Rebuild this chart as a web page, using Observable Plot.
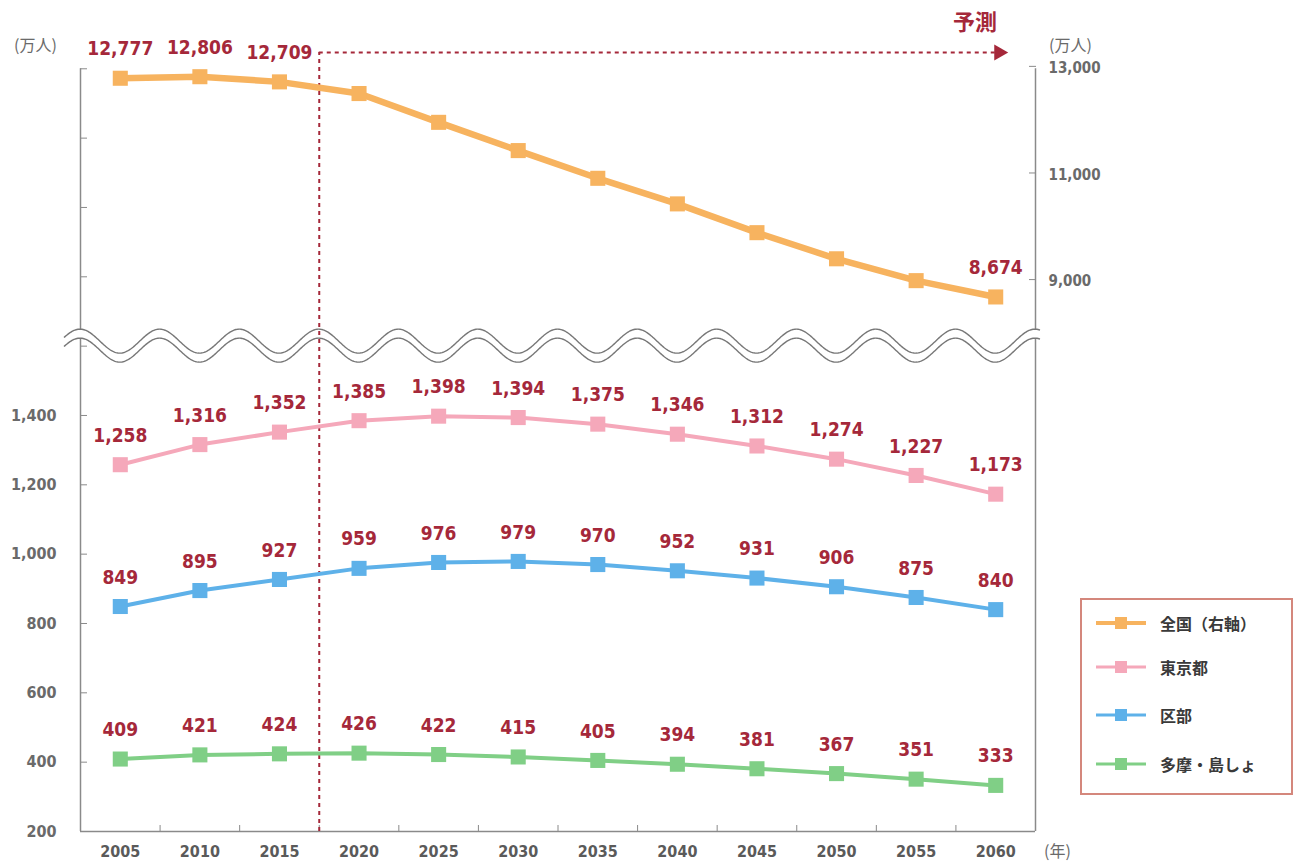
<!DOCTYPE html>
<html>
<head>
<meta charset="utf-8">
<script src="https://cdn.jsdelivr.net/npm/d3@7"></script>
<script src="https://cdn.jsdelivr.net/npm/@observablehq/plot@0.6"></script>
<style>
  body { margin: 0; background: #fff; }
  #wrap { position: relative; width: 1298px; height: 862px; overflow: hidden; }
  #legend {
    position: absolute; left: 1080px; top: 598px; width: 209px; height: 193px;
    border: 2px solid #d4877c; background: #fff;
    font-family: "Noto Sans CJK JP", sans-serif; font-size: 16px; font-weight: 700; color: #3a3a3a;
  }
  .item { position: absolute; left: 14px; height: 24px; display: flex; align-items: center; }
  .item svg { margin-right: 14px; }
</style>
</head>
<body>
<div id="wrap"></div>
<script>
// ---- data ----
const years = [2005, 2010, 2015, 2020, 2025, 2030, 2035, 2040, 2045, 2050, 2055, 2060];
const zenkoku = [12777, 12806, 12709, 12490, 11950, 11420, 10900, 10420, 9880, 9390, 8980, 8674];
const tokyo = [1258, 1316, 1352, 1385, 1398, 1394, 1375, 1346, 1312, 1274, 1227, 1173];
const kubu = [849, 895, 927, 959, 976, 979, 970, 952, 931, 906, 875, 840];
const tama = [409, 421, 424, 426, 422, 415, 405, 394, 381, 367, 351, 333];
const zenkokuLabelYears = [2005, 2010, 2015, 2060];
const leftTickLabels = [200, 400, 600, 800, 1000, 1200, 1400];
const leftUpperTicks = [1600, 1800, 2000, 2200, 2400];
const rightTickLabels = [13000, 11000, 9000];
const yearBoundaries = [2007.5, 2012.5, 2017.5, 2022.5, 2027.5, 2032.5, 2037.5, 2042.5, 2047.5, 2052.5, 2057.5];
const seriesNames = ["全国（右軸）", "東京都", "区部", "多摩・島しょ"];
const seriesColors = ["#f7b35f", "#f5a8ba", "#5eb1e9", "#80cf86"];
const forecastStart = 2017.5;
const forecastArrowEnd = 2060.2;
const forecastLabelX = 2058.7;
const breakValue = 1600;

// ---- scales helpers ----
const xDomain = [2002.5, 2062.5];
const yDomain = [200, 2447];
const toLeft = d3.scaleLinear().domain([9000, 13000]).range([1792, 2407]); // right axis -> left units

const allSeries = [zenkoku, tokyo, kubu, tama];
const rows = [];
allSeries.forEach((vals, si) => {
  vals.forEach((v, i) => {
    rows.push({
      series: seriesNames[si],
      si,
      year: years[i],
      value: v,
      y: si === 0 ? toLeft(v) : v,
      label: si === 0 ? zenkokuLabelYears.includes(years[i]) : true
    });
  });
});

const red = "#a5283a";
const axisGray = "#8a8a8a";
const textGray = "#6a6a6a";
const numFont = "'DejaVu Sans Condensed', 'Roboto', sans-serif";
const fmt = d3.format(",");

// break wave as a custom render mark using Plot's scales
function breakMark(index, scales, values, dimensions) {
  const x = scales.x, y = scales.y;
  const x0 = x(xDomain[0]);
  const period = x(xDomain[0] + 5) - x(xDomain[0]);
  const cy = y(breakValue);
  const A = 12, gap = 4.5;
  const pts = d3.range(x0 - 16, x(xDomain[1]) + 6, 1);
  const wave = off => pts.map(px => [px, cy + off - A * Math.cos(2 * Math.PI * (px - x0) / period)]);
  const up = wave(-gap), lo = wave(gap);
  const g = d3.create("svg:g");
  g.append("path")
    .attr("d", d3.line()(up.concat(lo.slice().reverse())) + "Z")
    .attr("fill", "#fff");
  g.append("path").attr("d", d3.line()(up)).attr("fill", "none").attr("stroke", "#777").attr("stroke-width", 1.4);
  g.append("path").attr("d", d3.line()(lo)).attr("fill", "none").attr("stroke", "#777").attr("stroke-width", 1.4);
  return g.node();
}

const plot = Plot.plot({
  width: 1298,
  height: 862,
  marginLeft: 80,
  marginRight: 263,
  marginTop: 52,
  marginBottom: 31,
  style: { fontFamily: numFont, background: "#fff", overflow: "visible" },
  x: { type: "linear", domain: xDomain, axis: null },
  y: { type: "linear", domain: yDomain, axis: null },
  marks: [
    // frame lines
    Plot.ruleX([xDomain[0]], { y1: 200, y2: 2400, stroke: axisGray, strokeWidth: 1.5 }),
    Plot.ruleX([xDomain[1]], { y1: 200, y2: 2400, stroke: axisGray, strokeWidth: 1.5 }),
    Plot.ruleY([200], { stroke: axisGray, strokeWidth: 1.5 }),
    // left axis ticks (inward) and labels
    Plot.axisY({ anchor: "left", ticks: leftTickLabels.concat(leftUpperTicks), tickSize: 7, dx: 7, tickFormat: () => "", label: null, stroke: axisGray }),
    Plot.axisY({ anchor: "left", ticks: leftTickLabels, tickSize: 0, tickPadding: 24, tickFormat: fmt, label: null, fill: textGray, fontSize: 16, fontWeight: "bold" }),
    // right axis ticks and labels
    Plot.axisY({ anchor: "right", ticks: rightTickLabels.map(v => toLeft(v)), tickSize: 7, dx: -7, tickFormat: () => "", label: null, stroke: axisGray }),
    Plot.axisY({ anchor: "right", ticks: rightTickLabels.map(v => toLeft(v)), tickSize: 0, tickPadding: 13, tickFormat: d => fmt(Math.round(toLeft.invert(d))), label: null, fill: textGray, fontSize: 15, fontWeight: "bold", dy: 2 }),
    // bottom axis: boundary ticks (inward) + year labels
    Plot.axisX({ anchor: "bottom", ticks: yearBoundaries, tickSize: 6, dy: -6, tickFormat: () => "", label: null, stroke: axisGray }),
    Plot.axisX({ anchor: "bottom", ticks: years, tickSize: 0, tickPadding: 14, tickFormat: d => String(d), label: null, fill: "#5a5a5a", fontSize: 16, fontWeight: "bold" }),
    // unit labels
    Plot.text(["(万人)"], { x: xDomain[0], y: yDomain[1], text: d => d, dx: -45, dy: -7, fontSize: 16, fill: textGray, fontFamily: "'Noto Sans CJK JP', sans-serif" }),
    Plot.text(["(万人)"], { x: xDomain[1], y: yDomain[1], text: d => d, dx: 35, dy: -7, fontSize: 16, fill: textGray, fontFamily: "'Noto Sans CJK JP', sans-serif" }),
    Plot.text(["(年)"], { x: xDomain[1], y: 200, text: d => d, dx: 22, dy: 20, fontSize: 16, fill: textGray, fontFamily: "'Noto Sans CJK JP', sans-serif" }),
    // axis break
    breakMark,
    // forecast marker
    Plot.ruleX([forecastStart], { y1: 200, y2: yDomain[1], stroke: red, strokeWidth: 2, strokeDasharray: "4,4" }),
    Plot.ruleY([yDomain[1]], { x1: forecastStart, x2: forecastArrowEnd, stroke: red, strokeWidth: 2, strokeDasharray: "4,4" }),
    Plot.dot([forecastArrowEnd], { x: d => d, y: yDomain[1], symbol: "triangle", rotate: 90, r: 6, fill: red, stroke: "none" }),
    Plot.text(["予測"], { x: forecastLabelX, y: yDomain[1], text: d => d, dy: -30, fontSize: 22, fontWeight: "bold", fill: red, fontFamily: "'Noto Sans CJK JP', sans-serif" }),
    // series
    Plot.line(rows, { x: "year", y: "y", z: "series", stroke: d => seriesColors[d.si], strokeWidth: d => d.si === 0 ? 6.5 : 4, strokeLinejoin: "round" }),
    Plot.dot(rows, { x: "year", y: "y", symbol: "square", r: 8.5, fill: d => seriesColors[d.si], stroke: "none" }),
    Plot.text(rows.filter(d => d.label), {
      x: "year", y: "y", text: d => fmt(d.value),
      dy: -29, fontSize: 19, fontWeight: "bold", fill: red
    })
  ]
});

const wrap = document.getElementById("wrap");
wrap.appendChild(plot);

// legend
const legend = document.createElement("div");
legend.id = "legend";
const itemTops = [11, 55, 103, 152];
seriesNames.forEach((name, i) => {
  const item = document.createElement("div");
  item.className = "item";
  item.style.top = itemTops[i] + "px";
  const svg = d3.create("svg").attr("width", 50).attr("height", 16);
  svg.append("line").attr("x1", 0).attr("x2", 50).attr("y1", 8).attr("y2", 8)
    .attr("stroke", seriesColors[i]).attr("stroke-width", i === 0 ? 4 : 3);
  svg.append("rect").attr("x", 19).attr("y", 2).attr("width", 12).attr("height", 12).attr("fill", seriesColors[i]);
  item.appendChild(svg.node());
  const span = document.createElement("span");
  span.textContent = name;
  item.appendChild(span);
  legend.appendChild(item);
});
wrap.appendChild(legend);
</script>
</body>
</html>
